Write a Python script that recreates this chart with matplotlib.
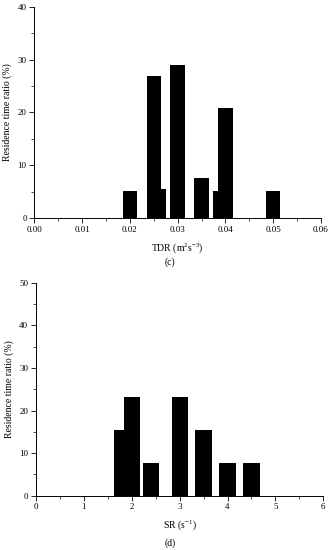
#!/usr/bin/env python3
# Residence time ratio histograms: TDR (c) and SR (d)
import matplotlib
matplotlib.use("Agg")
import matplotlib.pyplot as plt
from matplotlib.ticker import MultipleLocator

# panel (c): turbulent dissipation rate
tdr_x = [0.020, 0.026, 0.025, 0.030, 0.035, 0.039, 0.040, 0.050]
tdr_ratio = [5.1, 5.6, 26.9, 29.0, 7.7, 5.1, 20.9, 5.1]

# panel (d): shear rate
sr_x = [1.8, 2.0, 2.4, 3.0, 3.5, 4.0, 4.5]
sr_ratio = [15.38, 23.08, 7.69, 23.08, 15.38, 7.69, 7.69]

plt.rcParams["font.family"] = ["Liberation Serif", "DejaVu Serif"]
plt.rcParams["mathtext.fontset"] = "custom"
plt.rcParams["mathtext.rm"] = "Liberation Serif"
plt.rcParams["mathtext.it"] = "Liberation Serif:italic"

fig = plt.figure(figsize=(3.31, 5.5), dpi=100)
ax1 = fig.add_axes([0.1036, 0.603, 0.866, 0.385])
ax2 = fig.add_axes([0.1088, 0.0987, 0.868, 0.387])


def style(ax):
    for s in ["top", "right"]:
        ax.spines[s].set_visible(False)
    for s in ["left", "bottom"]:
        ax.spines[s].set_linewidth(0.7)
    ax.tick_params(which="major", direction="out", length=3.5, width=0.6,
                   labelsize=6.5, pad=2)
    ax.tick_params(which="minor", direction="out", length=2, width=0.5)
    ax.yaxis.set_label_coords(-0.078, 0.5)


ax1.bar(tdr_x, tdr_ratio, width=0.003, color="black")
ax1.set_xlim(0, 0.06)
ax1.set_ylim(0, 40)
ax1.xaxis.set_major_locator(MultipleLocator(0.01))
ax1.xaxis.set_minor_locator(MultipleLocator(0.005))
ax1.yaxis.set_major_locator(MultipleLocator(10))
ax1.yaxis.set_minor_locator(MultipleLocator(5))
ax1.set_xticklabels([f"{v:.2f}" for v in ax1.get_xticks()])
style(ax1)
ax1.set_ylabel("Residence time ratio (%)", fontsize=7)
ax1.set_xlabel(r"TDR (m$^{2}$s$^{-3}$)", fontsize=7, labelpad=5)

ax2.bar(sr_x, sr_ratio, width=0.34, color="black")
ax2.set_xlim(0, 6)
ax2.set_ylim(0, 50)
ax2.xaxis.set_major_locator(MultipleLocator(1))
ax2.xaxis.set_minor_locator(MultipleLocator(0.5))
ax2.yaxis.set_major_locator(MultipleLocator(10))
ax2.yaxis.set_minor_locator(MultipleLocator(5))
style(ax2)
ax2.set_ylabel("Residence time ratio (%)", fontsize=7)
ax2.set_xlabel(r"SR (s$^{-1}$)", fontsize=7, labelpad=5)

fig.text(0.514, 0.523, "(c)", fontsize=7, ha="center", va="center")
fig.text(0.514, 0.013, "(d)", fontsize=7, ha="center", va="center")

fig.savefig("out.png", dpi=100)
